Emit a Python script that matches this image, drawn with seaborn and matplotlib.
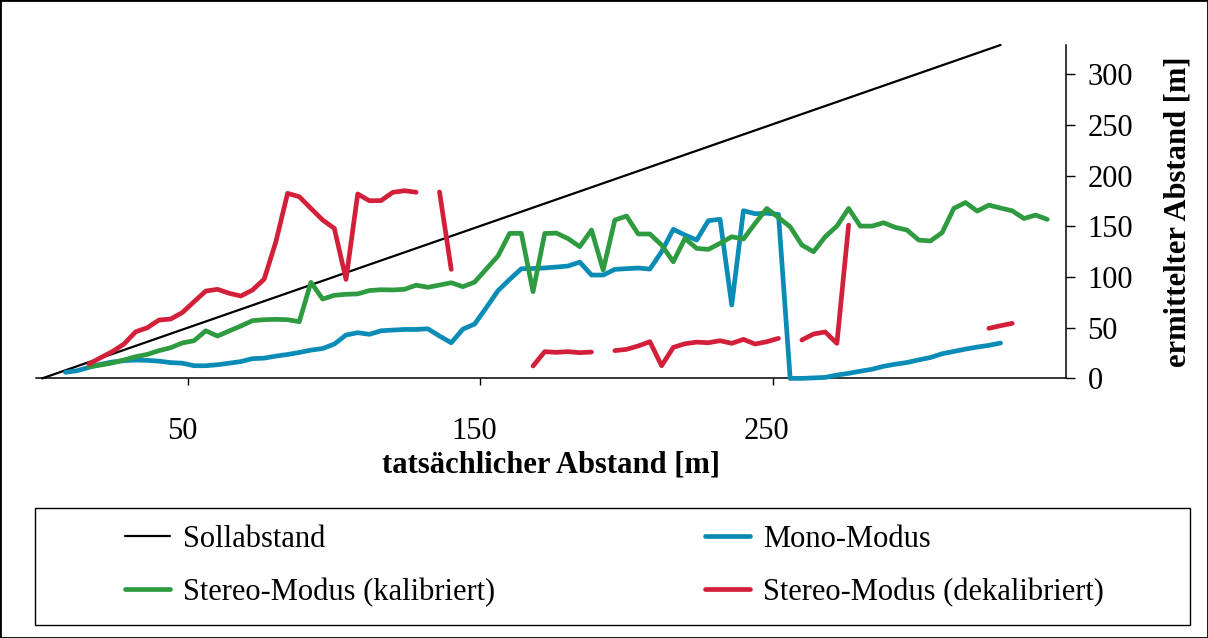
import numpy as np
import pandas as pd
import matplotlib
matplotlib.use("Agg")
import matplotlib.pyplot as plt
import matplotlib.transforms as mtrans
from matplotlib.patches import Rectangle
from matplotlib.lines import Line2D
import seaborn as sns

nan = np.nan

# ---------------- data ----------------
distance = [8, 12, 16, 20, 24, 28, 32, 36, 40, 44,
            48, 52, 56, 60, 64, 68, 72, 76, 80, 84,
            88, 92, 96, 100, 104, 108, 112, 116, 120, 124,
            128, 132, 136, 140, 144, 148, 152, 156, 160, 164,
            168, 172, 176, 180, 184, 188, 192, 196, 200, 204,
            208, 212, 216, 220, 224, 228, 232, 236, 240, 244,
            248, 252, 256, 260, 264, 268, 272, 276, 280, 284,
            288, 292, 296, 300, 304, 308, 312, 316, 320, 324,
            328, 332, 336, 340, 344]

mono = [6.0, 7.6, 10.9, 13.9, 16.2, 17.5, 18.1, 17.8, 17.0, 15.6,
        15.0, 12.5, 12.5, 13.5, 15.0, 16.6, 19.5, 20.0, 22.0, 23.6,
        25.6, 27.9, 29.5, 33.9, 42.8, 45.1, 43.5, 47.0, 47.7, 48.3,
        48.3, 49.0, 41.8, 35.2, 48.6, 53.6, 69.8, 86.5, 97.7, 108.2,
        108.5, 109.0, 109.9, 110.9, 114.8, 102.0, 102.0, 107.6, 108.3, 108.9,
        107.9, 125.0, 147.1, 141.5, 136.5, 155.6, 157.0, 72.4, 165.5, 162.5,
        163.0, 161.8, 0.0, 0.0, 0.5, 1.0, 3.3, 5.0, 7.1, 9.0,
        12.0, 14.0, 15.7, 18.3, 20.6, 24.3, 26.6, 28.9, 30.9, 32.6,
        34.9, nan, nan, nan, nan]

stereo_kal = [nan, nan, 11.5, 13.2, 15.2, 18.2, 21.4, 23.7, 27.4, 30.3,
              35.0, 37.2, 47.0, 41.8, 46.8, 51.7, 57.0, 57.9, 58.3, 57.9,
              56.0, 94.8, 78.3, 82.0, 83.0, 83.4, 86.7, 87.5, 87.3, 87.9,
              92.0, 89.9, 92.1, 94.4, 90.5, 95.0, 107.9, 120.8, 143.1, 143.1,
              85.6, 143.0, 143.4, 137.9, 130.0, 146.4, 107.0, 156.3, 160.2, 142.5,
              142.5, 131.6, 115.1, 138.1, 128.3, 127.3, 133.3, 139.8, 137.5, 152.9,
              167.7, 158.8, 149.6, 131.6, 125.0, 139.8, 150.3, 167.7, 150.3, 150.3,
              153.6, 149.0, 146.4, 136.5, 135.6, 143.8, 167.7, 173.6, 165.1, 171.0,
              168.1, 165.4, 157.8, 161.2, 156.9]

stereo_dekal = [nan, nan, 14.2, 20.4, 26.4, 33.9, 46.0, 50.0, 57.6, 58.6,
                65.0, 75.7, 86.2, 87.9, 84.0, 81.3, 87.2, 98.0, 134.9, 182.6,
                179.3, 167.7, 156.3, 148.0, 97.7, 182.0, 175.3, 175.5, 183.6, 185.2,
                183.7, nan, 184.0, 107.6, nan, nan, nan, nan, nan, nan,
                12.2, 26.4, 25.7, 26.4, 25.4, 26.0, nan, 27.4, 28.7, 32.0,
                36.2, 12.5, 30.6, 34.2, 35.8, 35.2, 37.2, 34.6, 38.5, 33.9,
                36.2, 39.5, nan, 37.9, 43.8, 45.8, 34.6, 151.3, nan, nan,
                nan, nan, nan, nan, nan, nan, nan, nan, nan, 49.4,
                52.0, 54.3, nan, nan, nan]

soll_x = [0, 328]
soll_y = [0, 329]

labels = ["Sollabstand", "Mono-Modus", "Stereo-Modus (kalibriert)", "Stereo-Modus (dekalibriert)"]
colors = {"Sollabstand": "black", "Mono-Modus": "#0B8CB6",
          "Stereo-Modus (kalibriert)": "#2E9B41", "Stereo-Modus (dekalibriert)": "#D3203A"}

# ---------------- long table with gap segments ----------------
frames = []
for name, vals in [(labels[1], mono), (labels[2], stereo_kal), (labels[3], stereo_dekal)]:
    v = np.array(vals, dtype=float)
    seg = np.cumsum(np.isnan(v))
    df = pd.DataFrame({"distance": distance, "value": v, "series": name,
                       "segment": [f"{name}_{s}" for s in seg]})
    frames.append(df.dropna())
data = pd.concat(frames, ignore_index=True)

# ---------------- style ----------------
sns.set_style("white")
plt.rcParams['font.family'] = ['Liberation Serif', 'DejaVu Serif']
for k in ["text.color", "axes.labelcolor", "xtick.color", "ytick.color", "axes.edgecolor"]:
    plt.rcParams[k] = "black"

FS = 22
LW = 3.4
W, H = 1208, 638
fig = plt.figure(figsize=(W / 100, H / 100), dpi=100)
ax = fig.add_axes([36 / W, 1 - 378.4 / H, (1066 - 36) / W, (378.4 - 45) / H])

sns.lineplot(x=soll_x, y=soll_y, color="black", lw=1.6, ax=ax, zorder=2)
for z, name in enumerate(labels[1:]):
    sub = data[data["series"] == name]
    sns.lineplot(data=sub, x="distance", y="value", units="segment", estimator=None,
                 color=colors[name], lw=LW, ax=ax, zorder=3 + z, legend=False)
for ln in ax.get_lines():
    ln.set_clip_on(False)
    ln.set_solid_capstyle("round")
    ln.set_solid_joinstyle("round")

ax.set_xlim(-2.1, 350.4)
ax.set_ylim(0, 329)
ax.set_xticks([50, 150, 250])
ax.set_yticks(range(0, 301, 50))

ax.spines["left"].set_visible(False)
ax.spines["top"].set_visible(False)
ax.spines["right"].set_linewidth(1.1)
ax.spines["bottom"].set_linewidth(1.1)

ax.yaxis.tick_right()
ax.yaxis.set_label_position("right")
ax.tick_params(axis="x", bottom=True, direction="out", length=5, width=1, pad=23, labelsize=FS)
ax.tick_params(axis="y", right=True, left=False, direction="out", length=6.5, width=1, pad=9, labelsize=FS)

offset = mtrans.ScaledTranslation(-6 / 100, 0, fig.dpi_scale_trans)
for lab in ax.get_xticklabels():
    lab.set_transform(lab.get_transform() + offset)

ax.set_xlabel("tatsächlicher Abstand [m]", fontsize=FS, fontweight="bold", labelpad=3)
ax.set_ylabel("ermittelter Abstand [m]", fontsize=FS, fontweight="bold", labelpad=22)

# ---------------- legend ----------------
def handle(name):
    return Line2D([0], [0], color=colors[name], lw=1.6 if name == "Sollabstand" else LW)

common = dict(frameon=False, borderpad=0, borderaxespad=0, handlelength=1.47,
              handletextpad=0.42, labelspacing=0.77, fontsize=FS, loc="upper left",
              bbox_transform=fig.transFigure)
fig.legend([handle(labels[0]), handle(labels[2])], [labels[0], labels[2]],
           bbox_to_anchor=(125 / W, 1 - 525 / H), **common)
fig.legend([handle(labels[1]), handle(labels[3])], [labels[1], labels[3]],
           bbox_to_anchor=(705 / W, 1 - 525 / H), **common)

fig.patches.append(Rectangle((35 / W, 1 - 625 / H), (1190 - 35) / W, (625 - 508) / H,
                             transform=fig.transFigure, fill=False, ec="black", lw=1.0))
fig.patches.append(Rectangle((0, 0), 1, 1, transform=fig.transFigure, fill=False,
                             ec="black", lw=2.0))

fig.savefig("out.png", dpi=100)
